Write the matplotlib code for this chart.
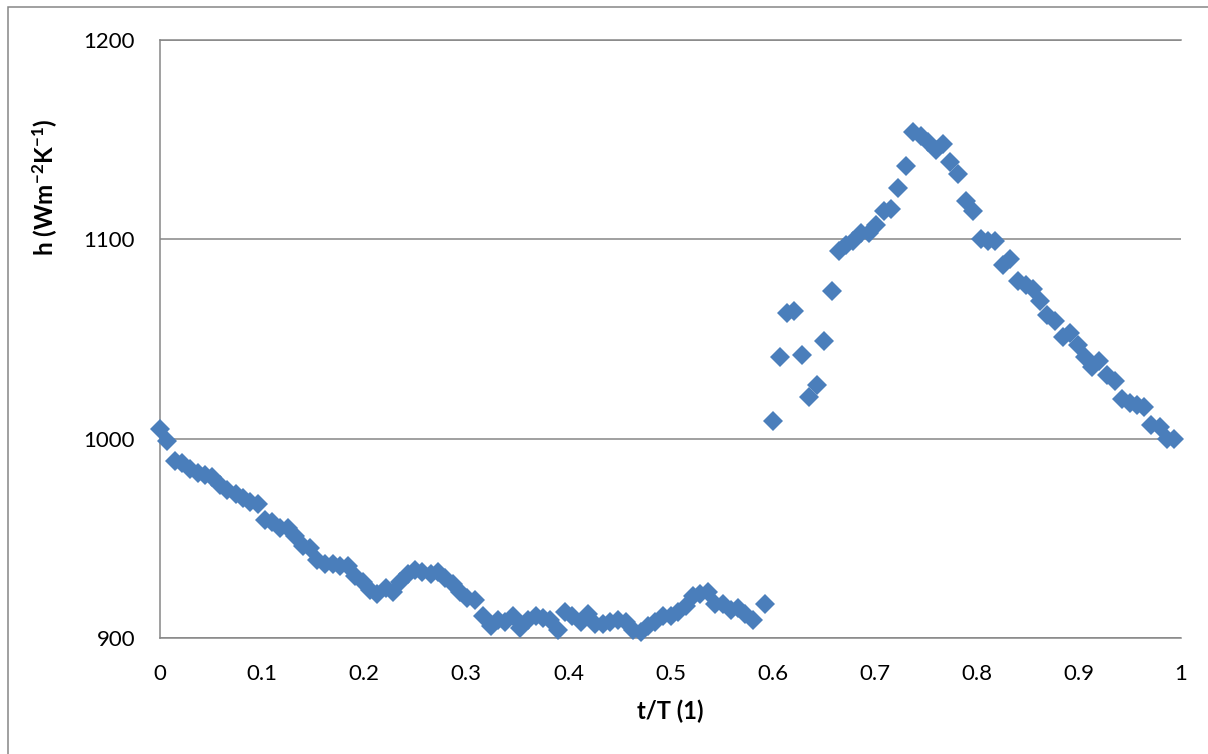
import matplotlib
matplotlib.use("Agg")
import matplotlib.pyplot as plt
from matplotlib.patches import Rectangle

# ---- data ----
t_left = [0.000, 0.007, 0.015, 0.022, 0.029, 0.037, 0.044, 0.051, 0.059, 0.066,
          0.074, 0.081, 0.088, 0.096, 0.103, 0.110, 0.118, 0.125, 0.132, 0.140,
          0.147, 0.154, 0.162, 0.169, 0.176, 0.184, 0.191, 0.199, 0.206, 0.213,
          0.221, 0.228, 0.235, 0.243, 0.250, 0.257, 0.265, 0.272, 0.279, 0.287,
          0.294, 0.301, 0.309, 0.316, 0.324, 0.331, 0.338, 0.346, 0.353, 0.360,
          0.368, 0.375, 0.382, 0.390, 0.397, 0.404, 0.412, 0.419, 0.426, 0.434,
          0.441, 0.449, 0.456, 0.463, 0.471, 0.478, 0.485, 0.493, 0.500, 0.507,
          0.515, 0.522, 0.529, 0.537, 0.544, 0.551, 0.559, 0.566, 0.573, 0.581,
          0.593]
h_left = [1005, 999, 989, 988, 985, 983, 982, 981, 977, 974,
          972, 970, 968, 967, 959, 958, 955, 955, 951, 946,
          945, 939, 937, 937, 936, 936, 931, 928, 924, 922,
          925, 923, 928, 932, 934, 933, 932, 933, 930, 927,
          923, 920, 919, 911, 906, 909, 908, 911, 905, 909,
          911, 910, 909, 904, 913, 911, 908, 912, 907, 907,
          908, 909, 908, 904, 903, 906, 908, 911, 911, 913,
          916, 921, 922, 923, 917, 917, 914, 915, 912, 909,
          917]
t_right = [0.600, 0.607, 0.614, 0.621, 0.629, 0.636, 0.643, 0.650, 0.658, 0.665,
           0.672, 0.679, 0.687, 0.694, 0.701, 0.709, 0.716, 0.723, 0.731, 0.738,
           0.745, 0.752, 0.760, 0.767, 0.774, 0.782, 0.789, 0.796, 0.804, 0.811,
           0.818, 0.826, 0.833, 0.840, 0.848, 0.855, 0.862, 0.869, 0.877, 0.884,
           0.891, 0.899, 0.906, 0.913, 0.920, 0.928, 0.935, 0.942, 0.950, 0.957,
           0.964, 0.971, 0.979, 0.986, 0.993]
h_right = [1009, 1041, 1063, 1064, 1042, 1021, 1027, 1049, 1074, 1094,
           1097, 1099, 1103, 1103, 1107, 1114, 1115, 1126, 1137, 1154,
           1152, 1149, 1145, 1148, 1139, 1133, 1119, 1114, 1100, 1099,
           1099, 1087, 1090, 1079, 1077, 1075, 1069, 1062, 1059, 1051,
           1053, 1047, 1041, 1036, 1039, 1032, 1029, 1020, 1018, 1017,
           1016, 1007, 1006, 1000, 1000]

x_ticks = [0, 0.1, 0.2, 0.3, 0.4, 0.5, 0.6, 0.7, 0.8, 0.9, 1]
x_ticklabels = ["0", "0.1", "0.2", "0.3", "0.4", "0.5", "0.6", "0.7", "0.8", "0.9", "1"]
y_ticks = [900, 1000, 1100, 1200]

# ---- styling ----
plt.rcParams['font.family'] = ['Lato', 'DejaVu Sans']
plt.rcParams['mathtext.fontset'] = 'custom'
plt.rcParams['mathtext.rm'] = 'Lato:bold'
plt.rcParams['mathtext.bf'] = 'Lato:bold'
plt.rcParams['mathtext.default'] = 'rm'

GRID = '#868686'
BLUE = '#4A7EBB'

fig = plt.figure(figsize=(12.08, 7.54), dpi=100)
ax = fig.add_axes([160/1208, 1 - 638/754, (1181-160)/1208, (638-40)/754])

ax.plot(t_left + t_right, h_left + h_right, linestyle='none', marker='D',
        markersize=10, color=BLUE, markeredgewidth=0, zorder=3, clip_on=False)

ax.set_xlim(0, 1)
ax.set_ylim(900, 1200)
ax.set_xticks(x_ticks)
ax.set_xticklabels(x_ticklabels)
ax.set_yticks(y_ticks)
ax.tick_params(axis='both', length=0, labelsize=16, colors='black')
ax.tick_params(axis='x', pad=19)
ax.tick_params(axis='y', pad=18)

ax.yaxis.grid(True, color=GRID, linewidth=1.1, zorder=0)
ax.set_axisbelow(True)
for side in ['left', 'bottom', 'top']:
    ax.spines[side].set_color(GRID)
    ax.spines[side].set_linewidth(1.1)
ax.spines['right'].set_visible(False)

ax.set_xlabel('t/T (1)', fontsize=17, fontweight='bold', labelpad=11)
fig.text(45/1208, 1 - 187/754, r'h (Wm$^{-2}$K$^{-1}$)', rotation=90,
         fontsize=17.5, fontweight='bold', ha='center', va='center')

# outer chart-area border
fig.patches.append(Rectangle((8/1208, -0.05), 1.2, 1 - 7/754 + 0.05,
                             transform=fig.transFigure, fill=False,
                             edgecolor=GRID, linewidth=1.1))

fig.savefig('out.png', dpi=100)
